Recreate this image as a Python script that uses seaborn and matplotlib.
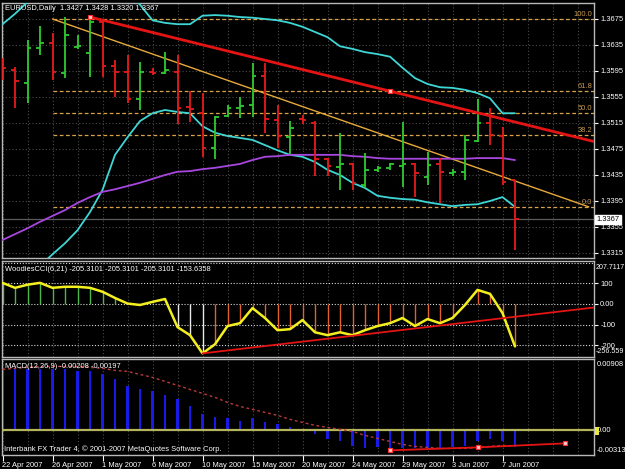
import numpy as np
import pandas as pd
import matplotlib
matplotlib.use("Agg")
import matplotlib.pyplot as plt
import matplotlib.transforms as mtransforms
import seaborn as sns

# ---------------- data ----------------
date_label_bars = [0, 4, 8, 12, 16, 20, 24, 28, 32, 36, 40]
date_labels = ["22 Apr 2007", "26 Apr 2007", "1 May 2007", "6 May 2007", "10 May 2007",
               "15 May 2007", "20 May 2007", "24 May 2007", "29 May 2007", "3 Jun 2007", "7 Jun 2007"]

opens = [1.3609, 1.3597, 1.3577, 1.3630, 1.3638, 1.3592, 1.3632, 1.3623, 1.3670, 1.3603,
         1.3593, 1.3552, 1.3593, 1.3592, 1.3593, 1.3540, 1.3530, 1.3477, 1.3526, 1.3538,
         1.3543, 1.3587, 1.3520, 1.3493, 1.3521, 1.3515, 1.3460, 1.3447, 1.3452, 1.3420,
         1.3443, 1.3446, 1.3449, 1.3452, 1.3432, 1.3452, 1.3438, 1.3440, 1.3487, 1.3515,
         1.3495, 1.3427]
highs = [1.3615, 1.3601, 1.3643, 1.3664, 1.3653, 1.3678, 1.3650, 1.3678, 1.3673, 1.3612,
         1.3620, 1.3609, 1.3600, 1.3624, 1.3620, 1.3564, 1.3561, 1.3526, 1.3543, 1.3555,
         1.3607, 1.3607, 1.3543, 1.3518, 1.3527, 1.3518, 1.3461, 1.3500, 1.3453, 1.3469,
         1.3449, 1.3453, 1.3517, 1.3453, 1.3470, 1.3461, 1.3444, 1.3496, 1.3552, 1.3538,
         1.3509, 1.3428]
lows = [1.3581, 1.3538, 1.3546, 1.3620, 1.3581, 1.3584, 1.3629, 1.3586, 1.3586, 1.3555,
        1.3546, 1.3535, 1.3589, 1.3590, 1.3513, 1.3517, 1.3463, 1.3460, 1.3524, 1.3523,
        1.3524, 1.3500, 1.3477, 1.3467, 1.3513, 1.3433, 1.3433, 1.3412, 1.3412, 1.3415,
        1.3440, 1.3443, 1.3417, 1.3401, 1.3420, 1.3392, 1.3433, 1.3427, 1.3486, 1.3481,
        1.3420, 1.3320]
closes = [1.3600, 1.3580, 1.3630, 1.3638, 1.3593, 1.3650, 1.3633, 1.3670, 1.3603, 1.3593,
          1.3552, 1.3593, 1.3592, 1.3597, 1.3538, 1.3537, 1.3477, 1.3524, 1.3538, 1.3541,
          1.3587, 1.3521, 1.3495, 1.3507, 1.3520, 1.3460, 1.3449, 1.3452, 1.3423, 1.3443,
          1.3446, 1.3452, 1.3452, 1.3438, 1.3450, 1.3440, 1.3440, 1.3489, 1.3515, 1.3496,
          1.3424, 1.3367]

bb_upper = [1.3667, 1.3683, 1.3701, 1.3717, 1.3727, 1.3735, 1.3743, 1.3747, 1.3743, 1.3732,
            1.3717, 1.3697, 1.3673, 1.3669, 1.3667, 1.3667, 1.3680, 1.3681, 1.3680, 1.3678,
            1.3677, 1.3675, 1.3673, 1.3669, 1.3663, 1.3655, 1.3647, 1.3633, 1.3629, 1.3624,
            1.3621, 1.3617, 1.3600, 1.3584, 1.3575, 1.3570, 1.3569, 1.3566, 1.3561, 1.3553,
            1.3530, 1.3530]
bb_lower = [1.3243, 1.3258, 1.3280, 1.3295, 1.3313, 1.3330, 1.3350, 1.3378, 1.3412, 1.3466,
            1.3493, 1.3518, 1.3530, 1.3535, 1.3532, 1.3530, 1.3510, 1.3500, 1.3495, 1.3492,
            1.3489, 1.3481, 1.3473, 1.3466, 1.3463, 1.3455, 1.3443, 1.3435, 1.3423, 1.3415,
            1.3403, 1.3400, 1.3398, 1.3397, 1.3393, 1.3390, 1.3387, 1.3389, 1.3390, 1.3395,
            1.3401, 1.3386]
ma_line = [1.3335, 1.3344, 1.3353, 1.3363, 1.3372, 1.3381, 1.3392, 1.3401, 1.3409, 1.3413,
           1.3418, 1.3423, 1.3429, 1.3435, 1.3440, 1.3441, 1.3444, 1.3446, 1.3449, 1.3452,
           1.3458, 1.3463, 1.3464, 1.3466, 1.3466, 1.3466, 1.3466, 1.3466, 1.3464, 1.3463,
           1.3461, 1.3460, 1.3460, 1.3460, 1.3460, 1.3460, 1.3460, 1.3460, 1.3461, 1.3461,
           1.3461, 1.3458]

cci = [102, 78, 93, 102, 78, 83, 83, 78, 59, 29,
       2, -5, 10, 24, -112, -151, -239, -195, -107, -93,
       -20, -68, -127, -122, -78, -137, -151, -137, -151, -127,
       -107, -93, -68, -107, -73, -93, -68, -5, 68, 49,
       -44, -205.31]
cci_state = ["up"] * 10 + ["flat"] * 4 + ["neutral"] * 3 + ["down"] * 25

macd = [0.00776, 0.00776, 0.00776, 0.00776, 0.00776, 0.00776, 0.00750, 0.00750, 0.00712, 0.00649,
        0.00560, 0.00521, 0.00496, 0.00445, 0.00394, 0.00305, 0.00204, 0.00165, 0.00153, 0.00114,
        0.00153, 0.00102, 0.00076, 0.00038, 0.00003, -0.00051, -0.00114, -0.00140, -0.00204, -0.00229,
        -0.00216, -0.00242, -0.00229, -0.00229, -0.00229, -0.00229, -0.00216, -0.00204, -0.00140, -0.00114,
        -0.00140, -0.00208]
macd_signal = [0.00776, 0.00789, 0.00801, 0.00814, 0.00814, 0.00814, 0.00814, 0.00801, 0.00789, 0.00763,
               0.00750, 0.00712, 0.00674, 0.00623, 0.00572, 0.00521, 0.00471, 0.00420, 0.00356, 0.00305,
               0.00267, 0.00229, 0.00191, 0.00140, 0.00102, 0.00064, 0.00038, 0.00013, -0.00013, -0.00064,
               -0.00102, -0.00140, -0.00178, -0.00204, -0.00216, -0.00229, -0.00229, -0.00229, -0.00216, -0.00204,
               -0.00191, -0.00197]

price_ticks = [1.3675, 1.3635, 1.3595, 1.3555, 1.3515, 1.3475, 1.3435, 1.3395, 1.3355, 1.3315]
price_range = (1.33073, 1.36996)
cci_ticks = [100, 0, -100, -200]
cci_tick_labels = ["100", "0.00", "-100", "-200"]
cci_grid = [200, 100, 0, -100, -200]
cci_range = (-256.559, 207.7117)
macd_range = (-0.00313, 0.00908)

fib_levels = [0.0, 38.2, 50.0, 61.8, 100.0]
fib_low, fib_high = 1.3386, 1.3675
fib_x = (4, 46.9)

trend_main_x, trend_main_y = [7, 31], [1.3678, 1.3564]
trend_cci_x, trend_cci_y = [16, 28], [-239, -154]
trend_macd_x, trend_macd_y = [31, 38, 45], [-0.00254, -0.00216, -0.00165]

title_main = "EURUSD,Daily  1.3427 1.3428 1.3320 1.3367"
title_cci = "WoodiesCCI(6,21) -205.3101 -205.3101 -205.3101 -153.6358"
title_macd = "MACD(12,26,9) -0.00208 -0.00197"
copyright_txt = "Interbank FX Trader 4, \u00a9 2001-2007 MetaQuotes Software Corp."

# ---------------- style ----------------
sns.set_style("dark", {"axes.facecolor": "black", "figure.facecolor": "black"})
plt.rcParams["font.family"] = ["Liberation Sans Narrow", "Liberation Sans", "DejaVu Sans"]
FS = 5.4

W, H = 625, 469
fig = plt.figure(figsize=(W / 100, H / 100), dpi=100, facecolor="black")


def rect(l, t, r, b):
    return [l / W, 1 - b / H, (r - l) / W, (b - t) / H]


ax_p = fig.add_axes(rect(2, 3, 594, 258))
ax_c = fig.add_axes(rect(2, 261, 594, 357))
ax_m = fig.add_axes(rect(2, 359, 594, 455))

XL = (-0.04, 47.32)
idx = np.arange(len(closes))
df = pd.DataFrame({"bar": idx, "open": opens, "high": highs, "low": lows, "close": closes,
                   "upper": bb_upper, "lower": bb_lower, "ma": ma_line, "cci": cci,
                   "macd": macd, "signal": macd_signal})

GRID = "#4a4a4a"
for ax in (ax_p, ax_c, ax_m):
    ax.set_facecolor("black")
    for s in ax.spines.values():
        s.set_color("#b8b8b8")
        s.set_linewidth(1.0)
    for xv in range(0, 48, 2):
        ax.axvline(xv, color=GRID, lw=0.8, ls=(0, (1, 2)), zorder=0)
    ax.yaxis.tick_right()
    ax.tick_params(axis="y", colors="white", labelsize=FS, length=3, pad=1.5, width=0.8)
    ax.tick_params(axis="x", bottom=False, labelbottom=False)

# ---------------- main price panel ----------------
for t in price_ticks:
    ax_p.axhline(t, color=GRID, lw=0.8, ls=(0, (1, 2)), zorder=0)

# fibonacci
fib_col = "#d9a24a"
for lv in fib_levels:
    p = fib_low + (fib_high - fib_low) * lv / 100
    ax_p.plot([fib_x[0], XL[1]], [p, p], color=fib_col, lw=0.9, ls=(0, (3, 2)), zorder=1)
    ax_p.annotate(f"{lv:.1f}", (47.2, p), xytext=(0, 0.8), textcoords="offset points",
                  ha="right", va="bottom", color="#c89a50", fontsize=FS)
ax_p.plot(list(fib_x), [fib_high, fib_low], color="#e8aa3c", lw=1.0, zorder=2)

# bid line
ax_p.axhline(closes[-1], color="#5c5c5c", lw=0.9, zorder=1)

# bands and MA via seaborn
sns.lineplot(data=df, x="bar", y="upper", ax=ax_p, color="#3fd6d6", lw=1.3, legend=False, zorder=3)
sns.lineplot(data=df, x="bar", y="lower", ax=ax_p, color="#3fd6d6", lw=1.3, legend=False, zorder=3)
sns.lineplot(data=df, x="bar", y="ma", ax=ax_p, color="#a847e0", lw=1.3, legend=False, zorder=3)

# OHLC bars
cols = np.where(df["close"] >= df["open"], "#2ecc2e", "#e81a1a")
ax_p.vlines(idx, df["low"], df["high"], colors=cols, lw=1.3, zorder=4)
ax_p.hlines(df["open"], idx - 0.3, idx, colors=cols, lw=1.3, zorder=4)
ax_p.hlines(df["close"], idx, idx + 0.3, colors=cols, lw=1.3, zorder=4)

# main red trendline (ray)
slope = (trend_main_y[1] - trend_main_y[0]) / (trend_main_x[1] - trend_main_x[0])
ax_p.plot([trend_main_x[0], XL[1]], [trend_main_y[0], trend_main_y[0] + slope * (XL[1] - trend_main_x[0])],
          color="#e41414", lw=2.0, zorder=5, solid_capstyle="butt")
ax_p.plot(trend_main_x, trend_main_y, ls="none", marker="s", ms=3, mfc="#ffc8c8", mec="#ff3030", mew=0.8, zorder=6)

ax_p.text(1.004, closes[-1], f"{closes[-1]:.4f}",
          transform=mtransforms.blended_transform_factory(ax_p.transAxes, ax_p.transData),
          color="black", fontsize=FS, va="center", ha="left",
          bbox=dict(boxstyle="square,pad=0.15", fc="white", ec="white"), zorder=10, clip_on=False)
ax_p.set_xlabel("")
ax_p.set_ylabel("")
ax_p.set_ylim(*price_range)
ax_p.set_yticks(price_ticks)
ax_p.set_yticklabels([f"{t:.4f}" for t in price_ticks])
ax_p.set_xlim(*XL)

# ---------------- CCI panel ----------------
for g in cci_grid:
    ax_c.axhline(g, color="#d8d8d8", lw=0.8, ls=(0, (1, 1.6)), zorder=0)
state_col = {"up": "#4cb84c", "flat": "none", "neutral": "#e8e8e8", "down": "#e0622e"}
hcols = [state_col[s] for s in cci_state]
ax_c.vlines(idx, 0, df["cci"], colors=hcols, lw=1.0, zorder=2)
sns.lineplot(data=df, x="bar", y="cci", ax=ax_c, color="#f4f020", lw=1.8, legend=False, zorder=4)
slope_c = (trend_cci_y[1] - trend_cci_y[0]) / (trend_cci_x[1] - trend_cci_x[0])
ax_c.plot([trend_cci_x[0], XL[1]], [trend_cci_y[0], trend_cci_y[0] + slope_c * (XL[1] - trend_cci_x[0])],
          color="#e41414", lw=1.3, zorder=5)
ax_c.set_xlabel("")
ax_c.set_ylabel("")
ax_c.set_ylim(*cci_range)
ax_c.set_yticks(cci_ticks)
ax_c.set_yticklabels(cci_tick_labels)
ax_c.set_xlim(*XL)

# ---------------- MACD panel ----------------
sns.barplot(data=df, x="bar", y="macd", ax=ax_m, color="#1a1ae8", width=0.2, native_scale=True,
            saturation=1, linewidth=0, errorbar=None, zorder=2)
ax_m.axhline(0, color="#b4b45a", lw=1.6, zorder=3)
sns.lineplot(data=df, x="bar", y="signal", ax=ax_m, color="#b83a3a", lw=1.0, legend=False, zorder=4)
ax_m.lines[-1].set_linestyle((0, (2, 2)))
ax_m.plot(trend_macd_x, trend_macd_y, color="#e41414", lw=1.3, marker="s", ms=3,
          mfc="#ffc8c8", mec="#ff3030", mew=0.8, zorder=5)
ax_m.set_xlabel("")
ax_m.set_ylabel("")
ax_m.set_ylim(*macd_range)
ax_m.set_yticks([])
ax_m.set_xlim(*XL)
ax_m.set_xticks(date_label_bars)
ax_m.set_xticklabels(date_labels, ha="left")
ax_m.tick_params(axis="x", bottom=True, labelbottom=True, colors="white", labelsize=FS, length=4, pad=1, width=0.8)


def ftext(x, y, s, **kw):
    fig.text(x / W, 1 - y / H, s, color=kw.pop("color", "white"), fontsize=kw.pop("fontsize", FS),
             va=kw.pop("va", "center"), ha=kw.pop("ha", "left"), **kw)


# right-side extreme labels
ftext(596, 267, "207.7117", fontsize=5.1)
ftext(596, 351, "-256.559", fontsize=5.1)
ftext(597, 364, "0.00908")
ftext(597, 431, "0.00")
fig.patches.append(plt.Rectangle((595 / W, 1 - 435 / H), 4 / W, 8 / H, transform=fig.transFigure,
                                 fc="#e8e840", ec="none", zorder=20))
ftext(597, 450, "-0.00313")

# titles
ftext(5, 8, title_main)
ftext(5, 269, title_cci)
ftext(5, 367, title_macd)
ftext(4, 449, copyright_txt)

fig.savefig("out.png", dpi=100, facecolor="black")
